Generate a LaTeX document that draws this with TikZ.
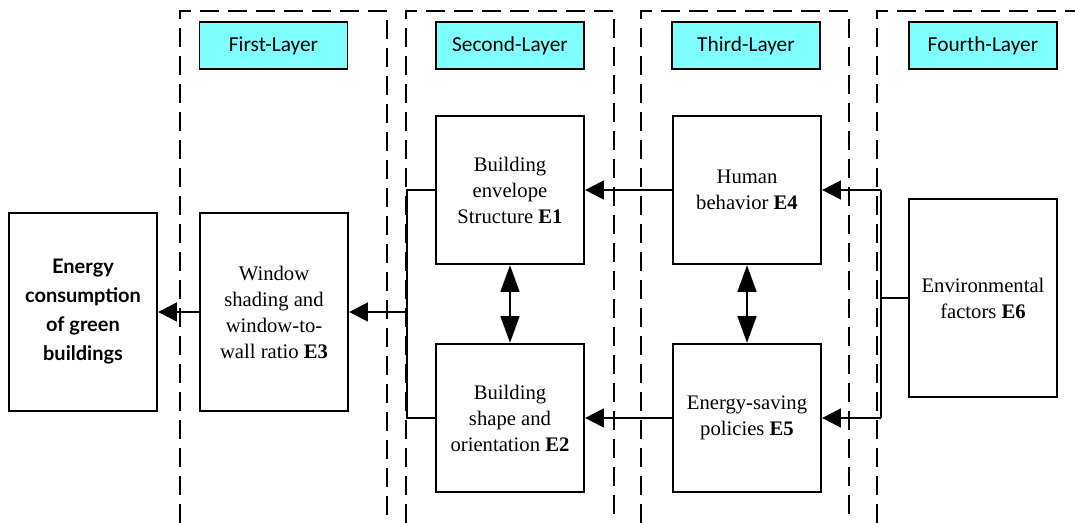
\documentclass[tikz,border=0pt]{standalone}
\usepackage{fontspec}
\setmainfont{Liberation Serif}
\newfontfamily\labelfont{Carlito}
\newfontfamily\titlefont{Lato}
\usetikzlibrary{arrows.meta}
\definecolor{tagcyan}{HTML}{80FFFF}

\begin{document}
\begin{tikzpicture}[x=0.75pt,y=-0.75pt,
  layer/.style={draw, line width=1.5pt, dash pattern=on 14pt off 7pt},
  tag/.style={draw, fill=tagcyan, line width=1.3pt, minimum width=111pt,
    minimum height=35pt, inner sep=0pt,
    font=\labelfont\fontsize{16}{19}\selectfont},
  factor/.style={draw, line width=1.7pt, minimum width=111pt,
    minimum height=111pt, inner sep=0pt, align=center,
    font=\fontsize{15.5}{19.5}\selectfont},
  tallfactor/.style={factor, minimum height=148.5pt},
  link/.style={line width=1.8pt},
  arr/.style={link, -{Triangle[length=14pt,width=14pt]}},
  dbl/.style={link, {Triangle[length=20pt,width=14pt]}-{Triangle[length=20pt,width=14pt]}}
]
\useasboundingbox (0,0) rectangle (1075,523);

% dashed layer frames, open at the bottom
\draw[layer] (180,523) -- (180,11) -- (387,11) -- (387,523);
\draw[layer] (406,523) -- (406,11) -- (614,11) -- (614,523);
\draw[layer] (641,523) -- (641,11) -- (849,11) -- (849,523);
\draw[layer] (877,523) -- (877,11) -- (1075,11);

% layer tags
\node[tag] (t1) at (273.5,45.5) {First-Layer};
\node[tag] (t2) at (510,45.5) {Second-Layer};
\node[tag] (t3) at (746,45.5) {Third-Layer};
\node[tag] (t4) at (983,45.5) {Fourth-Layer};

% factor boxes
\node[tallfactor, font=\titlefont\bfseries\fontsize{15}{21.75}\selectfont] (energy) at (83,312)
  {Energy\\consumption\\of green\\buildings};
\node[tallfactor] (window) at (274,312)
  {Window\\shading and\\window-to-\\wall ratio \textbf{E3}};
\node[factor] (e1) at (510,190) {Building\\envelope\\Structure \textbf{E1}};
\node[factor] (e2) at (510,418) {Building\\shape and\\orientation \textbf{E2}};
\node[factor] (e4) at (747,190) {Human\\behavior \textbf{E4}};
\node[factor] (e5) at (747,418) {Energy-saving\\policies \textbf{E5}};
\node[tallfactor] (e6) at (983,298) {Environmental\\factors \textbf{E6}};

% bus points
\coordinate (bl1) at (407,190);
\coordinate (bl2) at (407,418);
\coordinate (blm) at (407,312);
\coordinate (br1) at (881,190);
\coordinate (br2) at (881,418);
\coordinate (brm) at (881,298);

% connectors
\draw[arr] (window.west) -- (energy.east);
\draw[link] (e1.west) -- (bl1) -- (bl2) -- (e2.west);
\draw[arr] (blm) -- (window.east);
\draw[arr] (e4.west) -- (e1.east);
\draw[arr] (e5.west) -- (e2.east);
\draw[dbl] (e1.south) -- (e2.north);
\draw[dbl] (e4.south) -- (e5.north);
\draw[link] (e6.west) -- (brm);
\draw[link] (br1) -- (br2);
\draw[arr] (br1) -- (e4.east);
\draw[arr] (br2) -- (e5.east);
\end{tikzpicture}
\end{document}
